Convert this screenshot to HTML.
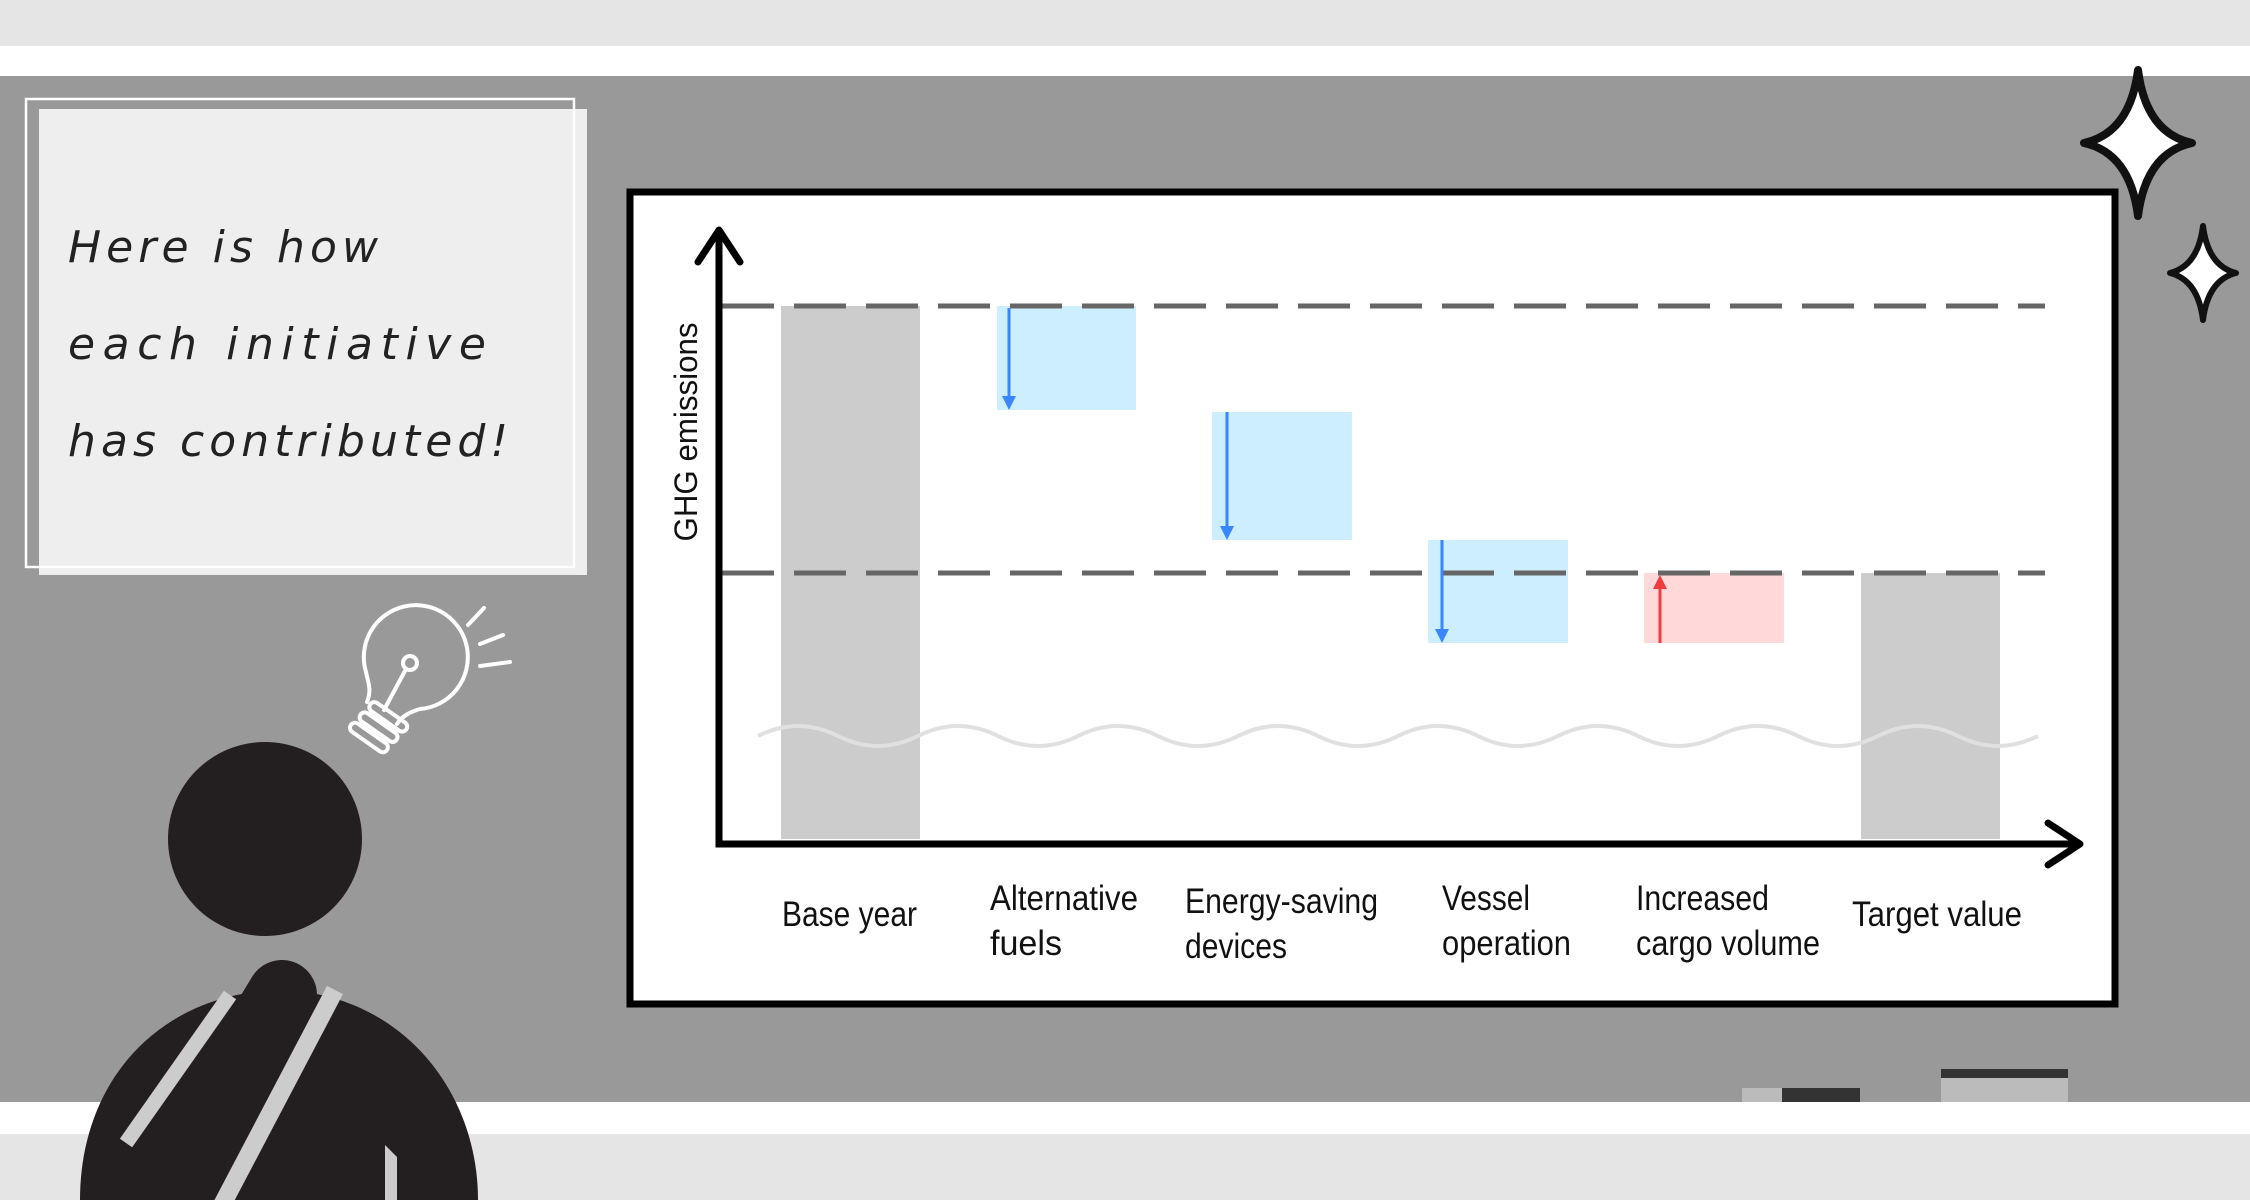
<!DOCTYPE html>
<html><head><meta charset="utf-8"><style>
html,body{margin:0;padding:0;}
body{width:2250px;height:1200px;overflow:hidden;background:#e5e5e5;position:relative;font-family:"Liberation Sans",sans-serif;}
</style></head><body>
<svg width="2250" height="1200" viewBox="0 0 2250 1200" xmlns="http://www.w3.org/2000/svg" style="position:absolute;left:0;top:0">
<rect x="0" y="0" width="2250" height="46" fill="#e5e5e5"/>
<rect x="0" y="46" width="2250" height="30" fill="#fff"/>
<rect x="0" y="76" width="2250" height="1026" fill="#999"/>
<rect x="0" y="1102" width="2250" height="32" fill="#fff"/>
<rect x="0" y="1134" width="2250" height="66" fill="#e5e5e5"/>
<rect x="1742" y="1088" width="40" height="14" fill="#bbb"/>
<rect x="1782" y="1088" width="78" height="14" fill="#333"/>
<rect x="1941" y="1069" width="127" height="9" fill="#333"/>
<rect x="1941" y="1078" width="127" height="24" fill="#bbb"/>
<rect x="39" y="109" width="548" height="466" fill="#eee"/>
<rect x="26" y="99" width="548" height="468" fill="none" stroke="#fff" stroke-width="2.5"/>
<g font-family="'DejaVu Sans','Liberation Sans',sans-serif" font-size="44" fill="#222" font-style="italic" font-weight="200">
<text x="68" y="262" textLength="310" lengthAdjust="spacing">Here is how</text>
<text x="68" y="359" textLength="418" lengthAdjust="spacing">each initiative</text>
<text x="68" y="456" textLength="440" lengthAdjust="spacing">has contributed!</text>
</g>
<path d="M2138 70 Q2146 133 2192 143 Q2146 153 2138 216 Q2130 153 2084 143 Q2130 133 2138 70Z" fill="#fff" stroke="#111" stroke-width="8" stroke-linejoin="round"/>
<path d="M2203 226 Q2208 266 2236 273 Q2208 280 2203 320 Q2198 280 2170 273 Q2198 266 2203 226Z" fill="#fff" stroke="#111" stroke-width="6" stroke-linejoin="round"/>
<rect x="630" y="192" width="1485" height="812" fill="#fff" stroke="#000" stroke-width="7"/>
<rect x="781" y="306" width="139" height="533" fill="#ccc"/>
<rect x="1861" y="573" width="139" height="266" fill="#ccc"/>
<rect x="997" y="306" width="139" height="104" fill="#cceeff"/>
<rect x="1212" y="412" width="140" height="128" fill="#cceeff"/>
<rect x="1428" y="540" width="140" height="103" fill="#cceeff"/>
<rect x="1644" y="573" width="140" height="70" fill="#ffd9da"/>
<path d="M758 736 q40 -20 80 0 t80 0 t80 0 t80 0 t80 0 t80 0 t80 0 t80 0 t80 0 t80 0 t80 0 t80 0 t80 0 t80 0 t80 0 t80 0" fill="none" stroke="#e0e0e0" stroke-width="4"/>
<line x1="722" y1="306" x2="2045" y2="306" stroke="#666" stroke-width="5" stroke-dasharray="52,20"/>
<line x1="722" y1="573" x2="2045" y2="573" stroke="#666" stroke-width="5" stroke-dasharray="52,20"/>
<g stroke="#3a86ff" stroke-width="3" fill="#3a86ff">
<line x1="1009" y1="308" x2="1009" y2="400"/><path d="M1002 396 L1016 396 L1009 410Z" stroke="none"/>
<line x1="1227" y1="412" x2="1227" y2="530"/><path d="M1220 526 L1234 526 L1227 540Z" stroke="none"/>
<line x1="1442" y1="540" x2="1442" y2="633"/><path d="M1435 629 L1449 629 L1442 643Z" stroke="none"/>
</g>
<line x1="1660" y1="643" x2="1660" y2="585" stroke="#f03c3c" stroke-width="3"/><path d="M1653 589 L1667 589 L1660 575Z" fill="#f03c3c"/>
<polyline points="719,232 719,844 2078,844" fill="none" stroke="#000" stroke-width="7"/>
<polyline points="698,262 719,230 740,262" fill="none" stroke="#000" stroke-width="7" stroke-linecap="round" stroke-linejoin="round"/>
<polyline points="2048,823 2080,844 2048,865" fill="none" stroke="#000" stroke-width="7" stroke-linecap="round" stroke-linejoin="round"/>
<text transform="translate(697,432) rotate(-90)" text-anchor="middle" font-size="32" fill="#111" textLength="219" lengthAdjust="spacingAndGlyphs">GHG emissions</text>
<g font-size="35" fill="#111">
<text x="782" y="926" textLength="135" lengthAdjust="spacingAndGlyphs">Base year</text>
<text x="990" y="910" textLength="148" lengthAdjust="spacingAndGlyphs">Alternative</text>
<text x="990" y="955" textLength="72" lengthAdjust="spacingAndGlyphs">fuels</text>
<text x="1185" y="913" textLength="193" lengthAdjust="spacingAndGlyphs">Energy-saving</text>
<text x="1185" y="958" textLength="102" lengthAdjust="spacingAndGlyphs">devices</text>
<text x="1442" y="910" textLength="88" lengthAdjust="spacingAndGlyphs">Vessel</text>
<text x="1442" y="955" textLength="129" lengthAdjust="spacingAndGlyphs">operation</text>
<text x="1636" y="910" textLength="133" lengthAdjust="spacingAndGlyphs">Increased</text>
<text x="1636" y="955" textLength="184" lengthAdjust="spacingAndGlyphs">cargo volume</text>
<text x="1852" y="926" textLength="170" lengthAdjust="spacingAndGlyphs">Target value</text>
</g>
<circle cx="265" cy="839" r="97" fill="#231f20"/>
<path d="M80 1200 C80 1080 160 993 280 990 C400 993 478 1090 478 1200 Z" fill="#231f20"/>
<line x1="230" y1="995" x2="126" y2="1143" stroke="#ccc" stroke-width="15"/>
<line x1="335" y1="990" x2="222" y2="1205" stroke="#ccc" stroke-width="18"/>
<line x1="282" y1="995" x2="200" y2="1130" stroke="#231f20" stroke-width="70" stroke-linecap="round"/>
<path d="M385 1145 L385 1200 L397 1200 L397 1157Z" fill="#ccc"/>
<g stroke="#fff" stroke-width="4" fill="none" stroke-linecap="round" stroke-linejoin="round">
<path d="M367,702 C372,690 368,682 366,672 A52 52 0 1 1 420,709 C410,712 402,716 397,724"/>
<circle cx="410" cy="663" r="7"/>
<line x1="406" y1="669" x2="384" y2="710"/>
<g transform="rotate(35 378 728)">
<rect x="358" y="708" width="44" height="10" rx="5"/>
<rect x="356" y="722" width="44" height="10" rx="5"/>
<rect x="354" y="736" width="44" height="10" rx="5"/>
</g>
<line x1="468" y1="625" x2="484" y2="608"/>
<line x1="480" y1="644" x2="503" y2="635"/>
<line x1="480" y1="666" x2="510" y2="662"/>
</g>
</svg>
</body></html>
